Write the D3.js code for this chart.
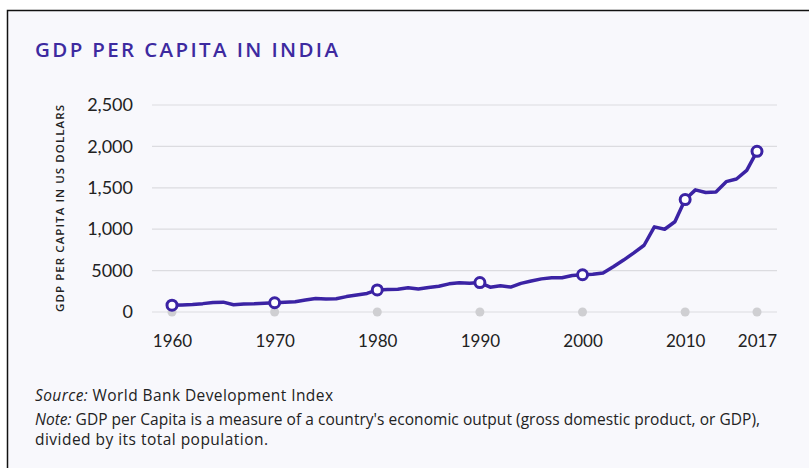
<!DOCTYPE html>
<html>
<head>
<meta charset="utf-8">
<script src="https://cdn.jsdelivr.net/npm/d3@7"></script>
<style>
  body { margin: 0; background: #fff; }
  svg { display: block; font-family: "Open Sans", Lato, sans-serif; }
</style>
</head>
<body>
<svg id="chart"></svg>
<script>
// chart data
var years = d3.range(1960, 2018);
var gdp = [82, 85, 90, 101, 116, 119, 88, 96, 99, 107,
           112, 119, 123, 144, 163, 158, 161, 186, 206, 224,
           267, 271, 275, 292, 277, 296, 311, 340, 354, 347,
           355, 300, 317, 301, 346, 374, 400, 415, 413, 441,
           450, 455, 471, 546, 627, 714, 806, 1028, 999, 1090,
           1358, 1475, 1444, 1450, 1574, 1606, 1710, 1940];
var markedYears = [1960, 1970, 1980, 1990, 2000, 2010, 2017];
var yTicks = [0, 500, 1000, 1500, 2000, 2500];
var yTickLabels = ['0', '5000', '1,000', '1,500', '2,000', '2,500'];

var width = 809,
	height = 468;

var data = years.map((y, i) => ({year: y, value: gdp[i]}));

var svg = d3.select('#chart')
			.attr('width', width)
			.attr('height', height);

// panel + frame (runs off the right and bottom edge)
svg.append('rect')
	.attr('x', 7.5)
	.attr('y', 10.5)
	.attr('width', 900)
	.attr('height', 600)
	.attr('fill', '#f8f8fc')
	.attr('stroke', '#111')
	.attr('stroke-width', 1.5);

var xScale = d3.scaleLinear()
				.domain([1960, 2017])
				.range([172, 757]);

var yScale = d3.scaleLinear()
				.domain([0, 2500])
				.range([312, 105]);

// gridlines
svg.append('g')
	.selectAll('line')
	.data(yTicks)
	.enter()
	.append('line')
		.attr('x1', 152)
		.attr('x2', 777)
		.attr('y1', d => yScale(d))
		.attr('y2', d => yScale(d))
		.attr('stroke', '#dcdce0')
		.attr('stroke-width', 1.2);

// y axis labels
var yAxis = d3.axisLeft(yScale)
			  .tickValues(yTicks)
			  .tickFormat((d, i) => yTickLabels[i])
			  .tickSize(0)
			  .tickPadding(0);

var gy = svg.append('g')
	.attr('transform', 'translate(133,0)')
	.call(yAxis);
gy.select('.domain').remove();
gy.selectAll('text')
	.attr('font-family', 'Lato, sans-serif')
	.attr('font-size', 18)
	.attr('fill', '#222');

// x axis labels
var xAxis = d3.axisBottom(xScale)
			  .tickValues(markedYears)
			  .tickFormat(d3.format('d'))
			  .tickSize(0)
			  .tickPadding(0);

var gx = svg.append('g')
	.attr('transform', 'translate(0,335)')
	.call(xAxis);
gx.select('.domain').remove();
gx.selectAll('text')
	.attr('font-family', 'Lato, sans-serif')
	.attr('font-size', 17)
	.attr('fill', '#222');

// grey dots on baseline
svg.append('g')
	.selectAll('circle')
	.data(markedYears)
	.enter()
	.append('circle')
		.attr('cx', d => xScale(d))
		.attr('cy', yScale(0))
		.attr('r', 4.5)
		.attr('fill', '#cfcfd2');

// the line
var line = d3.line()
			 .x(d => xScale(d.year))
			 .y(d => yScale(d.value));

svg.append('path')
	.datum(data)
	.attr('d', line)
	.attr('fill', 'none')
	.attr('stroke', '#3b23a4')
	.attr('stroke-width', 3.5)
	.attr('stroke-linejoin', 'round')
	.attr('stroke-linecap', 'round');

svg.append('g')
	.selectAll('circle')
	.data(data.filter(d => markedYears.includes(d.year)))
	.enter()
	.append('circle')
		.attr('cx', d => xScale(d.year))
		.attr('cy', d => yScale(d.value))
		.attr('r', 5)
		.attr('fill', '#fff')
		.attr('stroke', '#3b23a4')
		.attr('stroke-width', 3);

// title
svg.append('text')
	.attr('x', 35)
	.attr('y', 57)
	.attr('font-size', 20.5)
	.attr('font-weight', 600)
	.attr('fill', '#3d2aa0')
	.attr('textLength', 303)
	.attr('lengthAdjust', 'spacing')
	.text('GDP PER CAPITA IN INDIA');

// y axis title
svg.append('text')
	.attr('transform', 'translate(64,208.5) rotate(-90)')
	.style('text-anchor', 'middle')
	.attr('font-size', 11.5)
	.attr('font-weight', 600)
	.attr('fill', '#222')
	.attr('textLength', 207)
	.attr('lengthAdjust', 'spacing')
	.text('GDP PER CAPITA IN US DOLLARS');

// footnotes
var src = svg.append('text')
	.attr('x', 35)
	.attr('y', 401)
	.attr('font-size', 15.5)
	.attr('fill', '#222')
	.attr('textLength', 298)
	.attr('lengthAdjust', 'spacing');
src.append('tspan').attr('font-style', 'italic').text('Source:');
src.append('tspan').text(' World Bank Development Index');

var note = svg.append('text')
	.attr('x', 35)
	.attr('y', 425)
	.attr('font-size', 15.5)
	.attr('fill', '#222')
	.attr('textLength', 725)
	.attr('lengthAdjust', 'spacing');
note.append('tspan').attr('font-style', 'italic').text('Note:');
note.append('tspan').text(" GDP per Capita is a measure of a country's economic output (gross domestic product, or GDP),");

svg.append('text')
	.attr('x', 35)
	.attr('y', 445)
	.attr('font-size', 15.5)
	.attr('fill', '#222')
	.attr('textLength', 233)
	.attr('lengthAdjust', 'spacing')
	.text('divided by its total population.');
</script>
</body>
</html>
